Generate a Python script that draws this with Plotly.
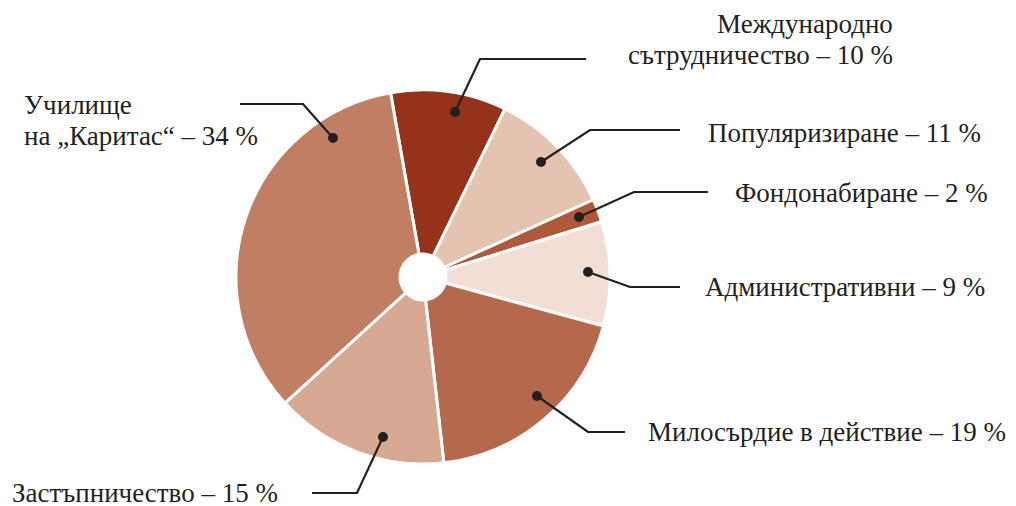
import plotly.graph_objects as go

# ---- data ----
categories = [
    "Международно сътрудничество",
    "Популяризиране",
    "Фондонабиране",
    "Административни",
    "Милосърдие в действие",
    "Застъпничество",
    "Училище на „Каритас“",
]
values = [10, 11, 2, 9, 19, 15, 34]
label_texts = [
    "Международно<br>сътрудничество – 10 %",
    "Популяризиране – 11 %",
    "Фондонабиране – 2 %",
    "Административни – 9 %",
    "Милосърдие в действие – 19 %",
    "Застъпничество – 15 %",
    "Училище<br>на „Каритас“ – 34 %",
]
colors = ["#94321a", "#e4c3b1", "#b0583a", "#f2ded5", "#b4694c", "#d8a992", "#c07e62"]

W, H = 1016, 506
OFF = 8  # page body margin offset
CX, CY, R = 423, 277, 187
TEXT_COLOR = "#231f20"
FONT = "Liberation Serif"
FSIZE = 27
LINE_GAP = 31

# leader layout (screen pixel space): dot, elbow, end, text anchor (x, y of first line, xanchor)
leaders = [
    ((455, 112), (480, 59), (586, 59), (895, 24, "right")),
    ((541, 162), (590, 130), (680, 130), (706, 133, "left")),
    ((579, 217), (634, 192), (708, 192), (733, 193, "left")),
    ((588, 272), (630, 287), (680, 287), (703, 287, "left")),
    ((537, 396), (588, 432), (625, 432), (646, 432, "left")),
    ((383, 437), (357, 493), (312, 493), (10, 493, "left")),
    ((333, 138), (303, 104), (240, 104), (22, 105, "left")),
]


def px(x):
    return (x - OFF) / W


def py(y):
    return 1 - (y - OFF) / H


fig = go.Figure(
    go.Pie(
        labels=categories,
        values=values,
        sort=False,
        direction="clockwise",
        rotation=-10,
        hole=0.123,
        marker=dict(colors=colors, line=dict(color="white", width=3)),
        textinfo="none",
        hoverinfo="label+percent",
        showlegend=False,
        domain=dict(x=[px(CX - R), px(CX + R)], y=[py(CY + R), py(CY - R)]),
    )
)

shapes = []
annotations = []
for (dot, elbow, end, txt), text in zip(leaders, label_texts):
    path = f"M {px(dot[0])},{py(dot[1])} L {px(elbow[0])},{py(elbow[1])} L {px(end[0])},{py(end[1])}"
    shapes.append(dict(type="path", xref="paper", yref="paper", path=path,
                       line=dict(color=TEXT_COLOR, width=2.2)))
    rr = 5
    shapes.append(dict(type="circle", xref="paper", yref="paper",
                       x0=px(dot[0] - rr), x1=px(dot[0] + rr),
                       y0=py(dot[1] + rr), y1=py(dot[1] - rr),
                       fillcolor=TEXT_COLOR, line=dict(width=0)))
    for i, line in enumerate(text.split("<br>")):
        annotations.append(dict(
            x=px(txt[0]), y=py(txt[1] + i * LINE_GAP), xref="paper", yref="paper",
            text=line, showarrow=False, xanchor=txt[2], yanchor="middle",
            align=txt[2], font=dict(family=FONT, size=FSIZE, color=TEXT_COLOR),
        ))

fig.update_layout(
    width=W, height=H,
    margin=dict(l=0, r=0, t=0, b=0),
    paper_bgcolor="white", plot_bgcolor="white",
    shapes=shapes, annotations=annotations,
)

fig.write_html("out.html")
